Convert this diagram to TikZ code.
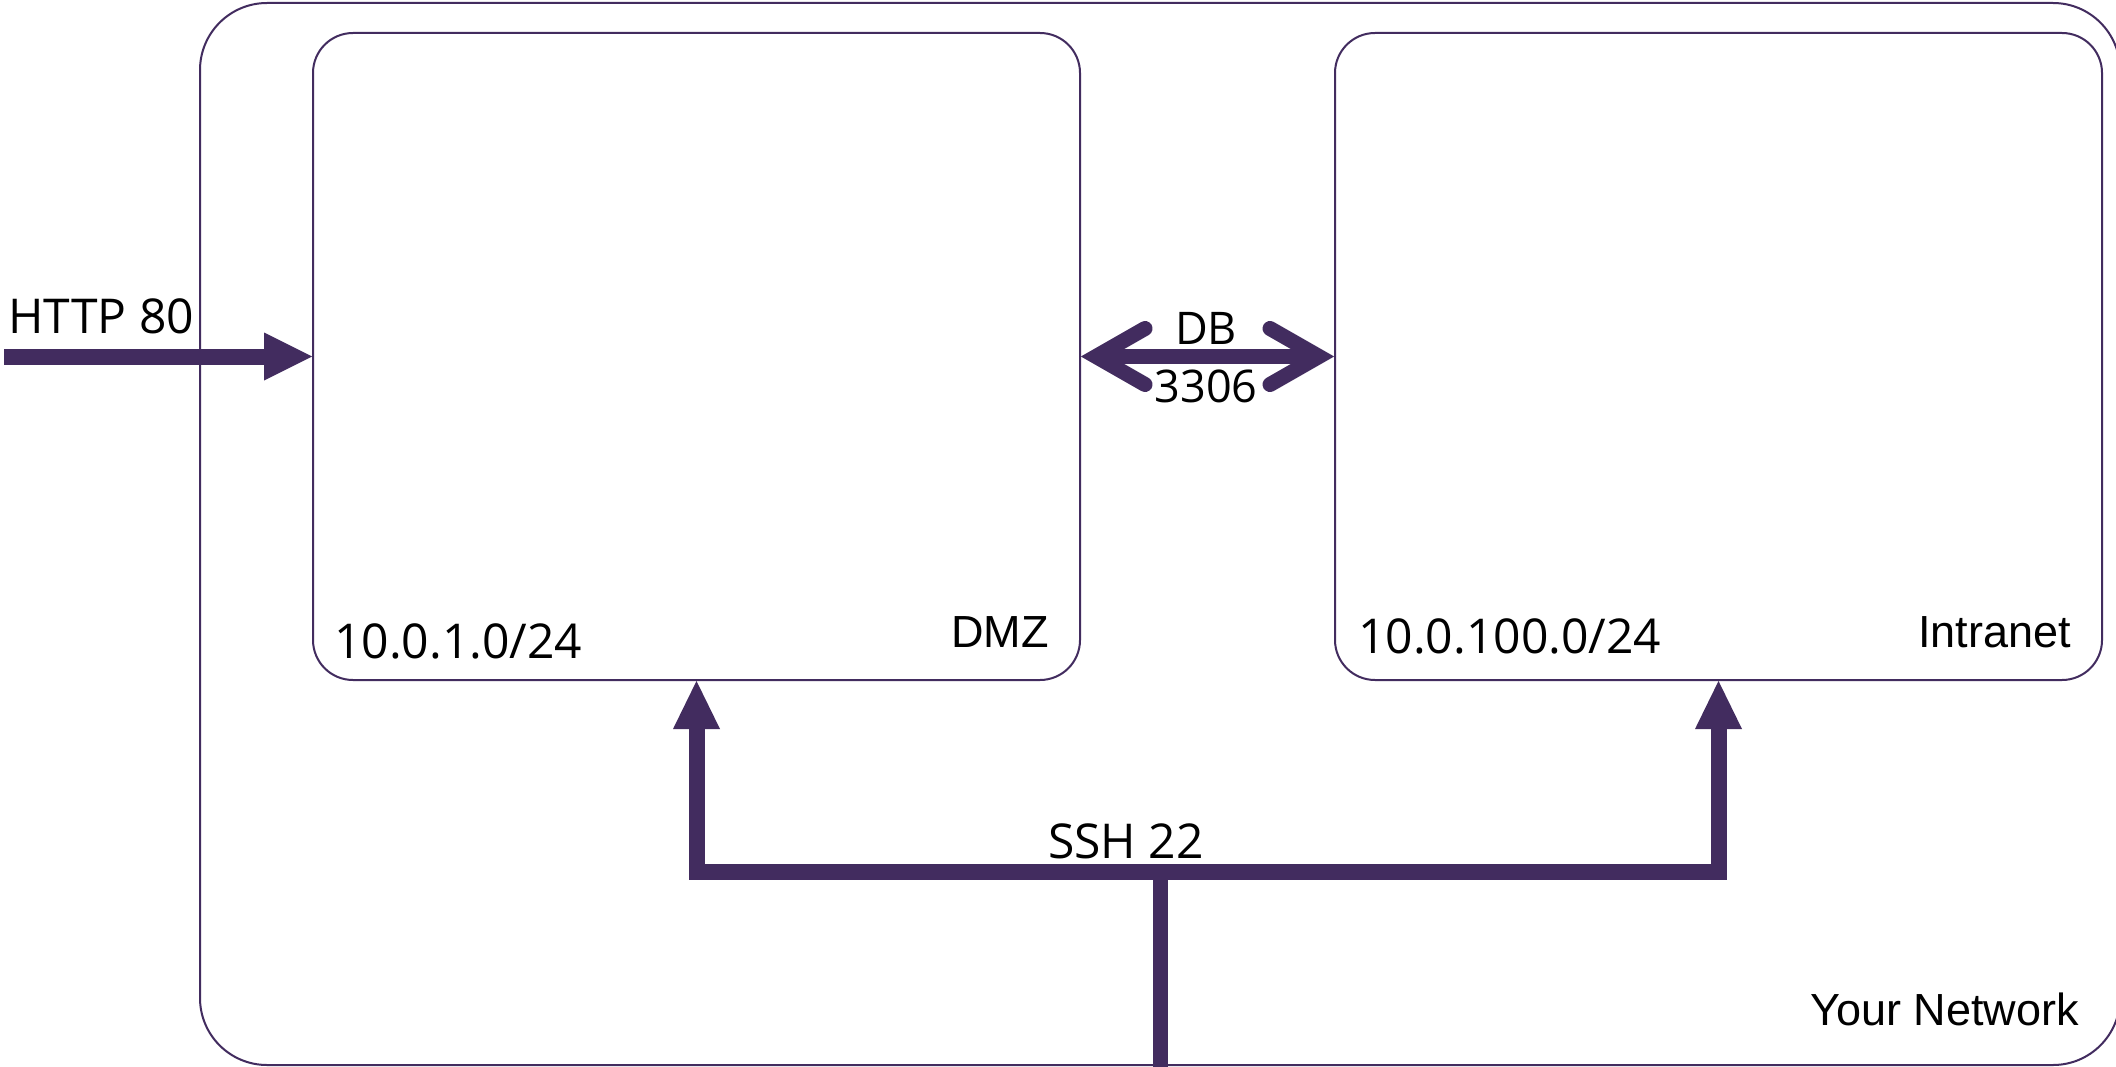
\documentclass[tikz,border=0pt]{standalone}
\usepackage{fontspec}
\usetikzlibrary{calc}
\newfontfamily\osans{Open Sans}
\newfontfamily\lsans{Liberation Sans}
\definecolor{pc}{RGB}{66,44,95}
\tikzset{
  zone/.style={draw=pc, line width=2pt, rounded corners=40pt, inner sep=0pt, fill=none},
  outerzone/.style={draw=pc, line width=2pt, rounded corners=67pt, inner sep=0pt},
  shaft/.style={draw=pc, line width=16pt, line cap=butt, line join=miter},
  barb/.style={draw=pc, line width=15pt, line cap=round, line join=miter},
  head/.style={fill=pc, draw=none},
  oslabel/.style={inner sep=0pt, font=\osans\fontsize{48}{58}\selectfont},
  dblabel/.style={inner sep=0pt, font=\osans\fontsize{45}{54}\selectfont},
  lslabel/.style={inner sep=0pt, font=\lsans\fontsize{45}{54}\selectfont}
}
\begin{document}
\begin{tikzpicture}[x=1pt,y=-1pt]
\useasboundingbox (0,0) rectangle (2116,1067);
\fill[white] (0,0) rectangle (2116,1067);
% boxes
\node[outerzone, minimum width=1920pt, minimum height=1062pt] (net) at (1160,534) {};
\node[zone, minimum width=767pt, minimum height=647pt] (dmz) at (696.5,356.5) {};
\node[zone, minimum width=767pt, minimum height=647pt] (intra) at (1718.5,356.5) {};
% labels in boxes
\node[oslabel, anchor=base west] (dmznet) at (334,658) {10.0.1.0/24};
\node[lslabel, anchor=base east] (dmzname) at (1049,647) {DMZ};
\node[oslabel, anchor=base west] (intranet) at (1358,653) {10.0.100.0/24};
\node[lslabel, anchor=base east] (intraname) at (2071,647) {Intranet};
\node[lslabel, anchor=base east] (netname) at (2079,1025) {Your Network};
% HTTP arrow
\coordinate (httpsrc) at (4,356.5);
\draw[shaft] (httpsrc) -- ($(dmz.west)+(-46,0)$);
\fill[head] ($(dmz.west)+(-48,-24)$) -- (dmz.west) -- ($(dmz.west)+(-48,24)$) -- cycle;
\node[oslabel, anchor=base west] (http) at (8,333) {HTTP 80};
% DB arrow
\coordinate (dbl) at ($(dmz.east)+(15,0)$);
\coordinate (dbr) at ($(intra.west)+(-15,0)$);
\draw[shaft, line width=15pt] (dbl) -- (dbr);
\draw[barb] ($(dbl)+(49,-28)$) -- (dbl) -- ($(dbl)+(49,28)$);
\draw[barb] ($(dbr)+(-49,-28)$) -- (dbr) -- ($(dbr)+(-49,28)$);
\node[dblabel, anchor=base] (db) at (1206,344) {DB};
\node[dblabel, anchor=base] (port) at (1206,402) {3306};
% SSH arrows
\coordinate (bar) at (1160,872);
\draw[shaft] ($(dmz.south)+(0,46)$) |- (bar -| intra.south) -- ($(intra.south)+(0,46)$);
\draw[shaft, line width=15pt] ($(net.south)+(0,4)$) -- (bar);
\fill[head] ($(dmz.south)+(-23.5,48)$) -- (dmz.south) -- ($(dmz.south)+(23.5,48)$) -- cycle;
\fill[head] ($(intra.south)+(-23.5,48)$) -- (intra.south) -- ($(intra.south)+(23.5,48)$) -- cycle;
\node[oslabel, anchor=base west] (ssh) at (1048,858) {SSH 22};
\end{tikzpicture}
\end{document}
